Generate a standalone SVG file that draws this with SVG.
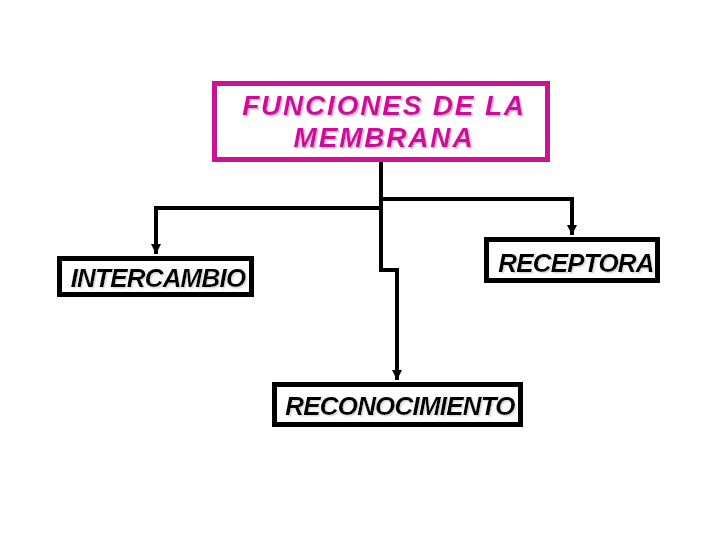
<svg xmlns="http://www.w3.org/2000/svg" width="720" height="540" viewBox="0 0 720 540">
<style>
.box{fill:#fff;stroke:#000;stroke-width:5}
.title{fill:#fff;stroke:#CC1199;stroke-width:5}
.lbl{font-family:"Liberation Sans",Arial,sans-serif;font-weight:bold;font-style:italic;font-size:26px;letter-spacing:-0.8px;text-anchor:middle;fill:#000;filter:url(#sh)}
.ttl{font-family:"Liberation Sans",Arial,sans-serif;font-weight:bold;font-style:italic;font-size:28px;letter-spacing:1.8px;text-anchor:middle;fill:#CC1199;filter:url(#shp)}
.con{fill:none;stroke:#000;stroke-width:4}
</style>
<defs>
<filter id="sh" x="-5%" y="-20%" width="110%" height="140%"><feDropShadow dx="1.5" dy="1.5" stdDeviation="0" flood-color="#dddddd"/></filter>
<filter id="shp" x="-5%" y="-20%" width="110%" height="140%"><feDropShadow dx="1.5" dy="1.5" stdDeviation="0" flood-color="#EAA8D8"/></filter>
<marker id="ah" viewBox="0 0 10 10" refX="10" refY="5" markerWidth="2.5" markerHeight="2.5" orient="auto" markerUnits="strokeWidth"><path d="M0,0 L10,5 L0,10 z" fill="#000"/></marker>
</defs>
<rect width="720" height="540" fill="#fff"/>
<g id="connectors">
<path class="con" d="M381,162 V270 H397 V380" marker-end="url(#ah)"/>
<path class="con" d="M381,199 H572 V235" marker-end="url(#ah)"/>
<path class="con" d="M381,208 H156 V254" marker-end="url(#ah)"/>
</g>
<g id="funciones">
<rect class="title" x="214.5" y="83.5" width="333" height="76"/>
<text class="ttl" x="384" y="115">FUNCIONES DE LA</text>
<text class="ttl" x="384" y="147">MEMBRANA</text>
</g>
<g id="intercambio">
<rect class="box" x="59.5" y="258.5" width="192" height="36"/>
<text class="lbl" x="158" y="287">INTERCAMBIO</text>
</g>
<g id="receptora">
<rect class="box" x="486.5" y="239.5" width="171" height="41"/>
<text class="lbl" x="576" y="272">RECEPTORA</text>
</g>
<g id="reconocimiento">
<rect class="box" x="274.5" y="384.5" width="246" height="40"/>
<text class="lbl" x="400" y="415">RECONOCIMIENTO</text>
</g>
</svg>
